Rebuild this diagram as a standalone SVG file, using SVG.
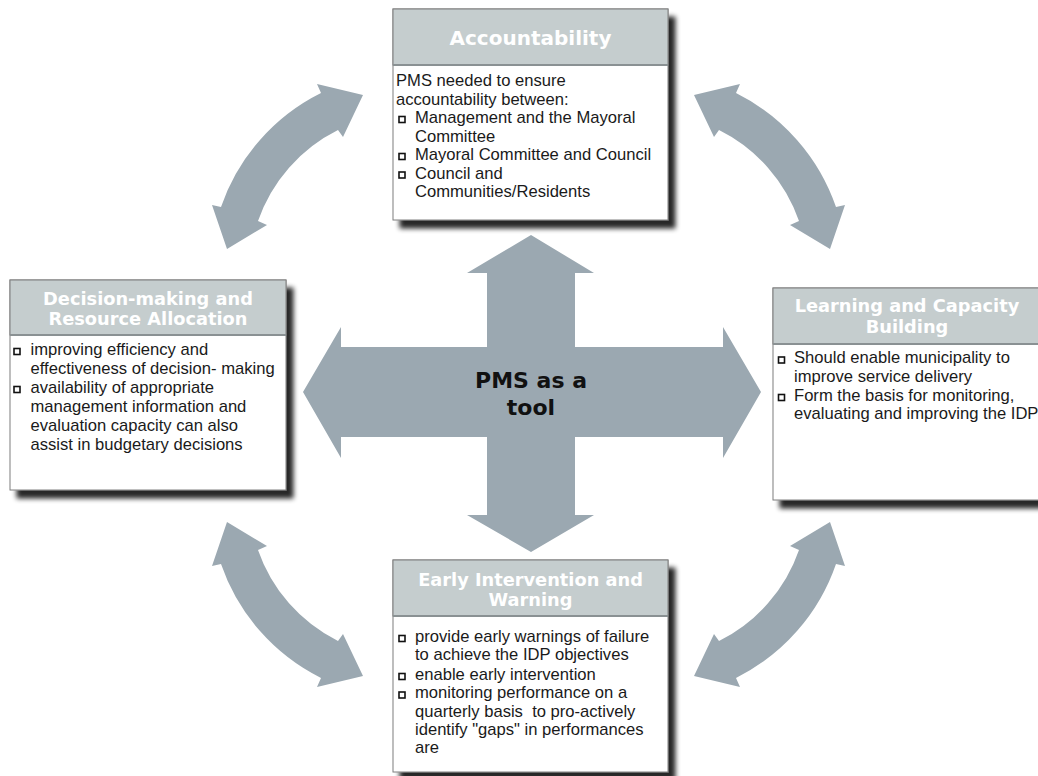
<svg xmlns="http://www.w3.org/2000/svg" width="1038" height="776" viewBox="0 0 1038 776">
<style>
.hdr{fill:#c5cdce;stroke:#7f7f7f;stroke-width:1}
.box{fill:#ffffff;stroke:#7f7f7f;stroke-width:1}
.sep{stroke:#8a9193;stroke-width:2}
.ht{font-family:"DejaVu Sans",Verdana,sans-serif;font-weight:bold;font-size:17.8px;fill:#ffffff;text-anchor:middle}
.bt{font-family:"Liberation Sans",Arial,sans-serif;font-size:16.6px;fill:#1a1a1a}
.bl{fill:#ffffff;stroke:#111111;stroke-width:1.6}
.arr{fill:#9ba8b1}
.pt{font-family:"DejaVu Sans",Verdana,sans-serif;font-weight:bold;font-size:22px;fill:#111111;text-anchor:middle}
</style>
<defs>
<filter id="shadow" x="-10%" y="-10%" width="130%" height="130%">
<feGaussianBlur in="SourceAlpha" stdDeviation="2.5"/>
<feOffset dx="7" dy="8" result="o"/>
<feComponentTransfer><feFuncA type="linear" slope="0.85"/></feComponentTransfer>
<feMerge><feMergeNode/><feMergeNode in="SourceGraphic"/></feMerge>
</filter>
<path id="curve" d="M363,95 L343,137 L338,130 A160,160 0 0 0 258,221 L267,225 L227,249 L212,205 L221,207 A200,200 0 0 1 321,93 L317,84 Z"/>
</defs>
<rect width="1038" height="776" fill="#ffffff"/>

<g id="connectors" class="arr">
<use href="#curve"/>
<use href="#curve" transform="matrix(-1 0 0 1 1057 0)"/>
<use href="#curve" transform="matrix(1 0 0 -1 0 771)"/>
<use href="#curve" transform="matrix(-1 0 0 -1 1057 771)"/>
</g>

<g id="pms-tool">
<path class="arr" d="M531,235 L594,273 L575,273 L575,347 L723,347 L723,327 L761,392 L723,458 L723,437 L575,437 L575,515 L594,515 L531,552 L467,515 L487,515 L487,437 L341,437 L341,458 L303,392 L341,327 L341,347 L487,347 L487,273 L467,273 Z"/>
<text class="pt" x="531" y="388">PMS as a</text>
<text class="pt" x="531" y="415">tool</text>
</g>

<g id="accountability">
<rect class="box" x="393" y="9" width="275" height="211" filter="url(#shadow)"/>
<rect class="hdr" x="393" y="9" width="275" height="56"/>
<line class="sep" x1="393" y1="65" x2="668" y2="65"/>
<text class="ht" x="530.5" y="45" style="font-size:20px">Accountability</text>
<text class="bt" x="396" y="86">PMS needed to ensure</text>
<text class="bt" x="396" y="104.5">accountability between:</text>
<rect class="bl" x="399" y="116.5" width="6" height="6"/>
<text class="bt" x="415" y="123">Management and the Mayoral</text>
<text class="bt" x="415" y="141.5">Committee</text>
<rect class="bl" x="399" y="153.5" width="6" height="6"/>
<text class="bt" x="415" y="160">Mayoral Committee and Council</text>
<rect class="bl" x="399" y="172" width="6" height="6"/>
<text class="bt" x="415" y="178.5">Council and</text>
<text class="bt" x="415" y="197">Communities/Residents</text>
</g>

<g id="decision-making">
<rect class="box" x="10" y="280" width="276" height="210" filter="url(#shadow)"/>
<rect class="hdr" x="10" y="280" width="276" height="55"/>
<line class="sep" x1="10" y1="335" x2="286" y2="335"/>
<text class="ht" x="148" y="305">Decision-making and</text>
<text class="ht" x="148" y="325">Resource Allocation</text>
<rect class="bl" x="14" y="348.5" width="6" height="6"/>
<text class="bt" x="30.5" y="355">improving efficiency and</text>
<text class="bt" x="30.5" y="374">effectiveness of decision- making</text>
<rect class="bl" x="14" y="386.5" width="6" height="6"/>
<text class="bt" x="30.5" y="393">availability of appropriate</text>
<text class="bt" x="30.5" y="412">management information and</text>
<text class="bt" x="30.5" y="431">evaluation capacity can also</text>
<text class="bt" x="30.5" y="450">assist in budgetary decisions</text>
</g>

<g id="learning">
<rect class="box" x="773" y="288" width="270" height="212" filter="url(#shadow)"/>
<rect class="hdr" x="773" y="288" width="270" height="56"/>
<line class="sep" x1="773" y1="344" x2="1043" y2="344"/>
<text class="ht" x="907" y="312">Learning and Capacity</text>
<text class="ht" x="907" y="333">Building</text>
<rect class="bl" x="778.5" y="357" width="6" height="6"/>
<text class="bt" x="794" y="363.3">Should enable municipality to</text>
<text class="bt" x="794" y="381.7">improve service delivery</text>
<rect class="bl" x="778.5" y="394.5" width="6" height="6"/>
<text class="bt" x="794" y="400.7">Form the basis for monitoring,</text>
<text class="bt" x="794" y="419.3">evaluating and improving the IDP</text>
</g>

<g id="early-intervention">
<rect class="box" x="393" y="560" width="275" height="212" filter="url(#shadow)"/>
<rect class="hdr" x="393" y="560" width="275" height="56"/>
<line class="sep" x1="393" y1="616" x2="668" y2="616"/>
<text class="ht" x="530.5" y="586">Early Intervention and</text>
<text class="ht" x="530.5" y="606">Warning</text>
<rect class="bl" x="399" y="635.5" width="6" height="6"/>
<text class="bt" x="415" y="641.7">provide early warnings of failure</text>
<text class="bt" x="415" y="660">to achieve the IDP objectives</text>
<rect class="bl" x="399" y="673.5" width="6" height="6"/>
<text class="bt" x="415" y="680">enable early intervention</text>
<rect class="bl" x="399" y="692" width="6" height="6"/>
<text class="bt" x="415" y="698.3">monitoring performance on a</text>
<text class="bt" x="415" y="716.7">quarterly basis&#160; to pro-actively</text>
<text class="bt" x="415" y="735">identify "gaps" in performances</text>
<text class="bt" x="415" y="753.3">are</text>
</g>
</svg>
